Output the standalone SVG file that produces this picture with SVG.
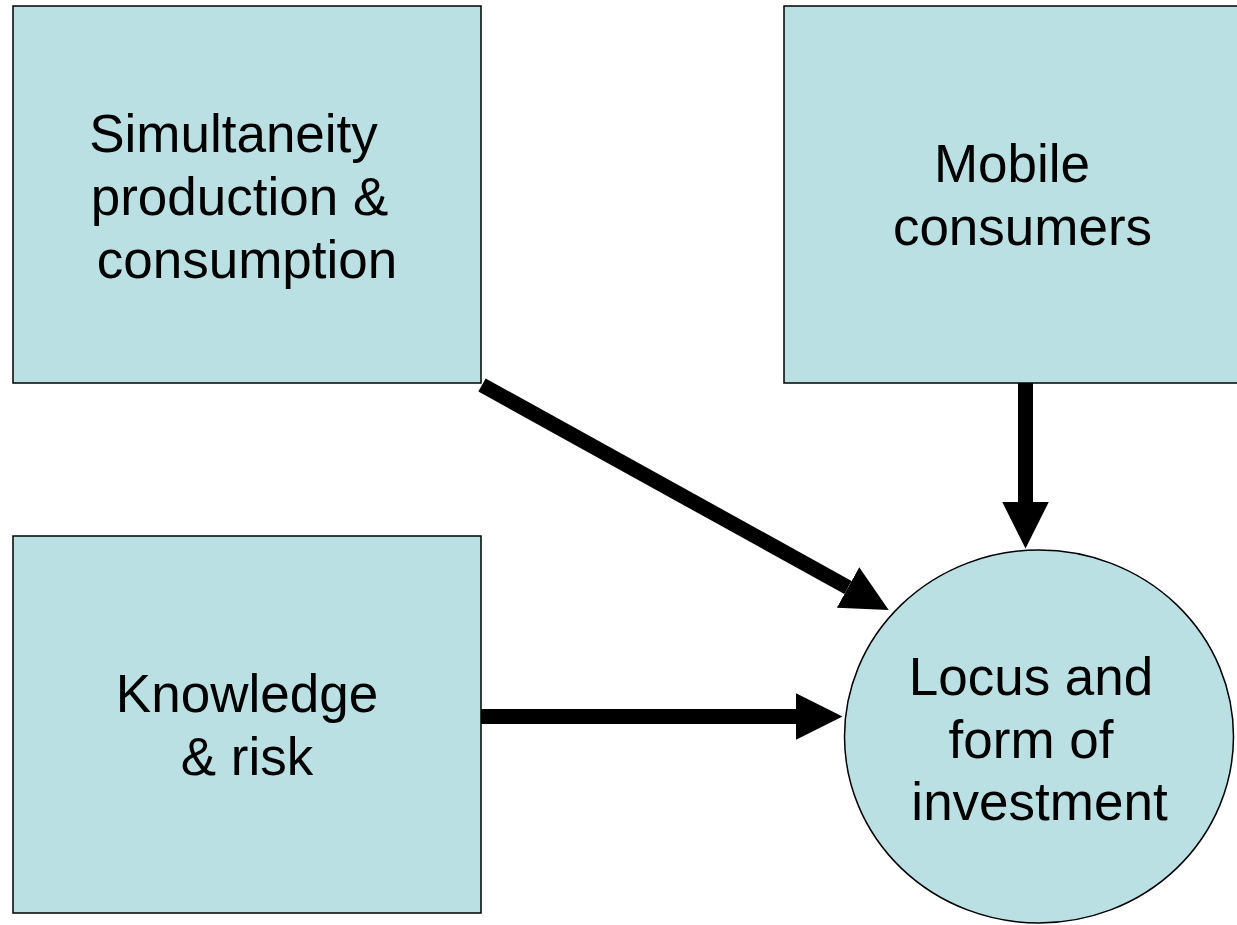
<svg xmlns="http://www.w3.org/2000/svg" width="1237" height="925" viewBox="0 0 1237 925">
<style>
.node{fill:#BBE0E3;stroke:#000;stroke-width:1.5}
.lbl{font-family:"Liberation Sans",Arial,sans-serif;font-size:53px;fill:#000;text-anchor:middle}
.conn{stroke:#000;stroke-width:15;fill:none}
</style>
<defs>
<marker id="ah" viewBox="0 0 10 10" refX="0" refY="5" markerWidth="3.1" markerHeight="3.1" orient="auto" markerUnits="strokeWidth">
<path d="M0,0 L10,5 L0,10 z" fill="#000"/>
</marker>
</defs>
<rect width="1237" height="925" fill="#fff"/>
<g id="n-simultaneity">
<rect class="node" x="13" y="6" width="468" height="377"/>
<text class="lbl" x="233.5" y="152">Simultaneity</text>
<text class="lbl" x="239.5" y="215">production &amp;</text>
<text class="lbl" x="247" y="278">consumption</text>
</g>
<g id="n-mobile">
<rect class="node" x="784" y="6" width="460" height="377"/>
<text class="lbl" x="1012" y="182">Mobile</text>
<text class="lbl" x="1022.5" y="245">consumers</text>
</g>
<g id="n-knowledge">
<rect class="node" x="13" y="536" width="468" height="377"/>
<text class="lbl" x="247" y="712">Knowledge</text>
<text class="lbl" x="247" y="775">&amp; risk</text>
</g>
<g id="n-locus">
<ellipse class="node" cx="1039" cy="736.5" rx="194.5" ry="186.5"/>
<text class="lbl" x="1031" y="695">Locus and</text>
<text class="lbl" x="1031" y="758">form of</text>
<text class="lbl" x="1039.5" y="820">investment</text>
</g>
<g id="connectors">
<line class="conn" x1="482" y1="385" x2="848" y2="587.5" marker-end="url(#ah)"/>
<line class="conn" x1="1025.5" y1="383" x2="1025.5" y2="502" marker-end="url(#ah)"/>
<line class="conn" x1="481" y1="716.5" x2="796" y2="716.5" marker-end="url(#ah)"/>
</g>
</svg>
